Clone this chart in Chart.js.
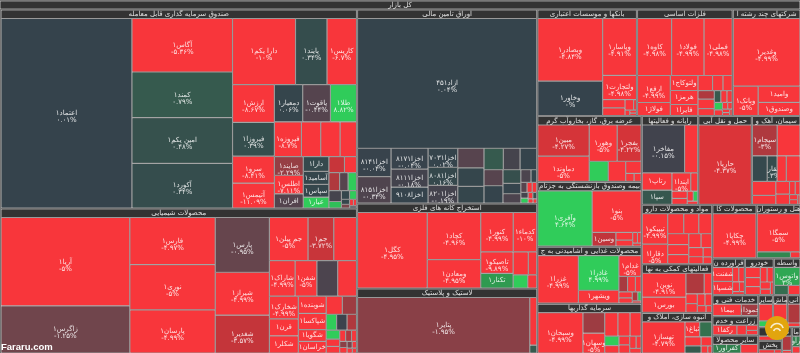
<!DOCTYPE html>
<html>
<head>
<meta charset="utf-8">
<style>
html, body { margin: 0; padding: 0; background: #777; }
#wrap { width: 800px; height: 353px; }
canvas { filter: blur(0.35px); }
</style>
<script src="https://cdn.jsdelivr.net/npm/chart.js@4/dist/chart.umd.js"></script>
</head>
<body>
<div id="wrap"><canvas id="map"></canvas></div>
<script>
var marketTitle = "کل بازار";

var fundNames = ["اعتماد۱","آگاس۱","کمند۱","امین یکم۱","آکورد۱","دارا یکم۱","پایند۱","کاریس۱","ارزش۱","فیروزا۱","سرو۱","آتیمس۱","دمعیار۱","یاقوت۱","طلا۱","فیروزه۱","","","","صایند۱","اطلس۱","افران۱","دارا۱","آسامید۱","سپاس۱","عیار۱","","","","","","","","","","","","","",""];
var fundCaps = [24440,5300,4530,4520,4430,4096,2048,1920,1558,1394,1107,1025,1044,1020,960,924,660,660,561,532,532,400,375,330,320,275,245,190,190,150,150,135,80,70,60,40,30,25,20,15];
var fundChanges = [0.01,-5.36,0.79,0.48,0.34,-10,0.34,-6.7,-8.67,0.39,-8.41,-11.09,0.06,-0.44,8.82,-8.7,-5,-5,-5,-2.29,-7.11,-0.4,0.2,0.1,0.1,5,-3.7,-5,-3,-0.5,5,-0.2,4,0.1,5,0.1,-1.5,-5,-5,0];

var chemNames = ["آریا۱","زاگرس۱","فارس۱","نوری۱","پارسان۱","پارس۱","شیراز۱","شغدیر۱","جم پیلن۱","جم۱","","شاراک۱","شفن۱","","","شخارک۱","قرن۱","شکلر۱","شوبنده۱","شپاکسا۱","شگویا۱","خراسان۱","","","","","","","","","","","","","","","","",""];
var chemCaps = [11300,6013,3995,3825,3655,2940,2300,2036,1650,1100,970,910,770,735,665,650,490,490,475,450,324,324,289,255,165,165,150,120,96,90,65,65,55,45,40,35,30,25,20];
var chemChanges = [-5,-1.25,-4.97,-5,-4.99,-0.95,-4.99,-3.57,-5,-3.72,-5,-4.99,-5,-0.3,-5,-4.99,-4.98,-5,-4.99,-4.97,-5,-5,-5,-2.5,5,-0.1,-3,5,-5,-5,-5,-3,-5,-2,-5,-1.5,-5,-5,-5];

var bondNames = ["ازاد۴۵۱","اخزا۸۱۴۱","اخزا۸۱۵۱","اخزا۸۱۷۱","اخزا۸۱۱۱","اخزا۹۱۰۸","اخزا۷۰۳۱","اخزا۸۰۸۱","اخزا۸۲۰۱","","","","","","","","","","","","","","","","","","","","","",""];
var bondCaps = [22733,928,864,756,648,576,551,530,510,500,475,425,405,351,351,297,320,240,180,162,126,72,60,50,45,40,35,30,25,20,15];
var bondChanges = [0.04,-0.04,-0.34,-0.04,-0.18,0,0.02,0.16,-0.19,-0.5,0.1,0.1,0.8,-0.2,0.02,-0.5,0.05,0.4,0.02,-0.3,-0.3,0.1,-0.5,-5,-5,-0.2,5,-5,0.5,-5,-5];

var miningNames = ["کگل۱","کچاد۱","ومعادن۱","کنور۱","کدماء۱","تاصیکو۱","تکنار۱","","","",""];
var miningCaps = [5313,2544,1537,1287,936,704,480,352,198,195,120];
var miningChanges = [-4.95,-4.96,-4.95,-4.99,-10,-9.89,2.5,-5,-5,5,-5];

var plasticNames = ["پتایر۱","",""];
var plasticCaps = [9460,329,55];
var plasticChanges = [-1.95,-5,0.8];

var bankNames = ["وبصادر۱","وخاور۱","وپاسار۱","ولتجارت۱","","","","","","",""];
var bankCaps = [4030,2210,1904,816,180,170,90,30,25,20,15];
var bankChanges = [-4.84,0,-4.91,-4.98,-5,-5,-5,-5,-5,-5,-5];

var metalNames = ["کاوه۱","فولاد۱","فملی۱","ارفع۱","فولاژ۱","ولتوکاج۱","هرمز۱","فایرا۱","","","","","","","","","","","","","","","",""];
var metalCaps = [1900,1800,1568,864,416,405,378,297,216,153,136,136,150,110,75,70,60,60,45,35,30,25,20,15];
var metalChanges = [-4.98,-4.99,-4.98,-4.99,-5,-5,-5,-5,-5,-5,-5,-3,-5,-5,0.8,-5,-5,5,-5,-5,-5,-5,-5,-5];

var multiNames = ["وغدیر۱","وبانک۱","وامید۱","وصندوق۱"];
var multiCaps = [4489,725,672,546];
var multiChanges = [-4.99,-5,-5,-5];

var energyNames = ["مبین۱","دماوند۱","وهور۱","بفجر۱","","","","",""];
var energyCaps = [1550,1250,980,840,370,340,180,65,55];
var energyChanges = [-4.27,-5,-5,-4.22,5,-5,-5,-5,-5];

var insureNames = ["واَفری۱","بنو۱","وسین۱","","","","",""];
var insureCaps = [2970,2009,325,130,100,50,40,25];
var insureChanges = [4.64,-5,-3.5,-5,-5,-5,-5,-5];

var foodNames = ["غزرا۱","غاذرا۱","ویشهر۱","غدام۱","","","","","","","",""];
var foodCaps = [1920,1400,520,460,135,120,90,80,70,50,30,20];
var foodChanges = [-4.99,4.99,-5,-5,-2.8,-5,-5,-5,-5,-3,5,-5];

var investNames = ["وسبحان۱","","وسهان۱","","","","","","","","","",""];
var investCaps = [1760,430,420,300,276,253,130,100,90,85,75,60,50];
var investChanges = [-4.99,-2.5,-5,-5,-5,-5,5,-5,-5,-5,-5,-5,-5];

var rayaneNames = ["مفاخر۱","","رتاپ۱","سپا۱","ایندا۱","","","","","",""];
var rayaneCaps = [2016,624,510,420,342,126,110,90,60,45,33];
var rayaneChanges = [-0.15,-5,-5,0.7,-5,-5,-5,-5,-5,5,-5];

var shipNames = ["حاریا۱"];
var shipCaps = [4266];
var shipChanges = [-4.37];

var cementNames = ["سیجام۱","","","سقارا۱","","","","","","","","","","",""];
var cementCaps = [725,667,357,238,221,330,310,195,165,130,70,60,40,35,20];
var cementChanges = [-3,-5,0.2,0.3,-5,-5,-5,-5,-5,-5,-5,-5,-5,-5,-5];

var drugNames = ["تیپیکو۱","دقارا۱","","","","","","","","","","","",""];
var drugCaps = [775,500,320,300,260,230,210,190,170,150,130,100,80,60];
var drugChanges = [-4.99,-5,-5,-5,-5,-5,-5,-5,-5,-5,-5,-5,-5,-5];

var serviceNames = ["نوین۱","بورس۱","","","","","","","",""];
var serviceCaps = [1050,672,380,160,110,100,90,80,60,40];
var serviceChanges = [-4.91,-5,-3,-5,-5,-5,-5,-5,-5,-5];

var buildNames = ["تهساز۱","ثباغ۱","","","","","",""];
var buildCaps = [1386,230,190,150,120,100,50,30];
var buildChanges = [-4.79,-5,1.4,-5,0.8,-5,-5,-5];

var partsNames = ["چکاپا۱"];
var partsCaps = [1980];
var partsChanges = [-4.99];

var hotelNames = ["سمگا۱","",""];
var hotelCaps = [1710,210,60];
var hotelChanges = [-5,2,-5];

var refineNames = ["شفنت۱","شسپا۱","","","","",""];
var refineCaps = [294,273,95,85,70,50,36];
var refineChanges = [-5,-5,-5,-5,-5,-5,-5];

var carNames = ["","","","","","","",""];
var carCaps = [170,150,130,110,100,80,60,40];
var carChanges = [-5,-5,-5,-5,-5,-5,-5,-5];

var brokerNames = ["واتوس۱","",""];
var brokerCaps = [432,120,100];
var brokerChanges = [3,1.3,-5];

var techNames = ["بیما۱","خموذا۱"];
var techCaps = [250,145];
var techChanges = [-5,-2.6];

var farmNames = ["رکفا۱","","",""];
var farmCaps = [230,90,60,50];
var farmChanges = [-5,-5,-5,-5];

var otherNames = ["کفرآور۱",""];
var otherCaps = [260,160];
var otherChanges = [1.8,-5];

var miscNames = ["",""];
var miscCaps = [200,70];
var miscChanges = [-5,5];

var machineNames = ["",""];
var machineCaps = [180,80];
var machineChanges = [-5,-5];

var tileNames = ["",""];
var tileCaps = [210,40];
var tileChanges = [-3,-5];

var sectorTitles = ["صندوق سرمایه گذاری قابل معامله","محصولات شیمیایی","اوراق تامین مالی","استخراج کانه های فلزی","لاستیک و پلاستیک","بانکها و موسسات اعتباری","فلزات اساسی","شرکتهای چند رشته ا","عرضه برق، گاز، بخاروآب گرم","بیمه وصندوق بازنشستگی به جزتام","محصولات غذایی و آشامیدنی به ج","سرمایه گذاریها","رایانه و فعالیتها","حمل و نقل آبی","سیمان، آهک و","مواد و محصولات دارو","فعالیتهای کمکی به نها","انبوه سازی، املاک و","محصولات کا","هتل و رستوران","فراورده ن","خودرو","واسطه","خدمات فنی و","زراعت و خدم","سایر محصولا","سایر","ماش","انی","تو","پخش","م","ما"];
var sectorCaps = [70844,51620,34920,15300,11700,10600,10176,7208,6864,6760,5928,5200,5016,4752,4312,4200,3430,2870,2370,2350,1190,1060,980,968,880,836,470,460,420,320,300,260,230];
var sectorCells = [
	[fundNames,fundCaps,fundChanges],[chemNames,chemCaps,chemChanges],[bondNames,bondCaps,bondChanges],
	[miningNames,miningCaps,miningChanges],[plasticNames,plasticCaps,plasticChanges],[bankNames,bankCaps,bankChanges],
	[metalNames,metalCaps,metalChanges],[multiNames,multiCaps,multiChanges],[energyNames,energyCaps,energyChanges],
	[insureNames,insureCaps,insureChanges],[foodNames,foodCaps,foodChanges],[investNames,investCaps,investChanges],
	[rayaneNames,rayaneCaps,rayaneChanges],[shipNames,shipCaps,shipChanges],[cementNames,cementCaps,cementChanges],
	[drugNames,drugCaps,drugChanges],[serviceNames,serviceCaps,serviceChanges],[buildNames,buildCaps,buildChanges],
	[partsNames,partsCaps,partsChanges],[hotelNames,hotelCaps,hotelChanges],[refineNames,refineCaps,refineChanges],
	[carNames,carCaps,carChanges],[brokerNames,brokerCaps,brokerChanges],[techNames,techCaps,techChanges],
	[farmNames,farmCaps,farmChanges],[otherNames,otherCaps,otherChanges],[miscNames,miscCaps,miscChanges],
	[machineNames,machineCaps,machineChanges],[tileNames,tileCaps,tileChanges],
	[miscNames,miscCaps,miscChanges],[machineNames,machineCaps,machineChanges],[tileNames,tileCaps,tileChanges],[otherNames,otherCaps,otherChanges]
];

var changeStops = [-4.8,-4.3,-3.57,-1.25,-0.4,0,0.8,2.5,4.5];
var colorStops = [[248,54,59],[214,52,57],[196,53,58],[112,69,76],[84,68,78],[53,67,76],[54,90,78],[47,154,80],[48,204,90]];

// squarified layout, golden ratio like d3 treemap
var PHI = (1 + Math.sqrt(5)) / 2;
function squarify(caps, x0, y0, x1, y1) {
	var rects = [], i0 = 0, i1 = 0, n = caps.length;
	var value = caps.reduce(function(a, b) { return a + b; }, 0);
	while (i0 < n) {
		var dx = x1 - x0, dy = y1 - y0;
		var sum = caps[i1++], min = sum, max = sum;
		var alpha = Math.max(dy / dx, dx / dy) / (value * PHI);
		var beta = sum * sum * alpha;
		var minRatio = Math.max(max / beta, beta / min);
		for (; i1 < n; ++i1) {
			var v = caps[i1];
			sum += v;
			if (v < min) min = v;
			if (v > max) max = v;
			beta = sum * sum * alpha;
			var newRatio = Math.max(max / beta, beta / min);
			if (newRatio > minRatio) { sum -= v; break; }
			minRatio = newRatio;
		}
		var j, pos;
		if (dx < dy) {
			var yEnd = i1 < n ? y0 + dy * sum / value : y1;
			pos = x0;
			for (j = i0; j < i1; j++) {
				var w = dx * caps[j] / sum;
				rects[j] = { x0: pos, x1: pos + w, y0: y0, y1: yEnd };
				pos += w;
			}
			y0 = yEnd;
		} else {
			var xEnd = i1 < n ? x0 + dx * sum / value : x1;
			pos = y0;
			for (j = i0; j < i1; j++) {
				var h = dy * caps[j] / sum;
				rects[j] = { x0: x0, x1: xEnd, y0: pos, y1: pos + h };
				pos += h;
			}
			x0 = xEnd;
		}
		value -= sum;
		i0 = i1;
	}
	return rects;
}

function buildCells() {
	var cells = [{ x0: 0, x1: 800, y0: 1, y1: 9, title: marketTitle }];
	squarify(sectorCaps, 0, 9, 800, 353).forEach(function(box, s) {
		cells.push({ x0: box.x0 + 1, x1: box.x1, y0: box.y0 + 1, y1: box.y0 + 9.5, title: sectorTitles[s] });
		var set = sectorCells[s];
		squarify(set[1], box.x0 + 1, box.y0 + 9.5, box.x1, box.y1).forEach(function(r, i) {
			r.name = set[0][i];
			r.change = set[2][i];
			cells.push(r);
		});
	});
	return cells;
}

function changeColor(v) {
	var k = 0;
	if (v <= changeStops[0]) return "rgb(" + colorStops[0] + ")";
	if (v >= changeStops[changeStops.length - 1]) return "rgb(" + colorStops[colorStops.length - 1] + ")";
	while (v > changeStops[k + 1]) k++;
	var t = (v - changeStops[k]) / (changeStops[k + 1] - changeStops[k]);
	var a = colorStops[k], b = colorStops[k + 1];
	return "rgb(" + [0, 1, 2].map(function(c) { return Math.round(a[c] + (b[c] - a[c]) * t); }) + ")";
}

function toPersian(v) {
	return String(v).replace(/\d/g, function(d) { return "۰۱۲۳۴۵۶۷۸۹"[d]; }) + "%";
}

class TreemapController extends Chart.DatasetController {
	parse() {}
	update(mode) {
		var meta = this._cachedMeta;
		this.updateElements(meta.data, 0, meta.data.length, mode);
	}
	updateElements(elements, start, count) {
		var xs = this._cachedMeta.xScale, ys = this._cachedMeta.yScale, data = this.getDataset().data;
		for (var i = start; i < start + count; i++) {
			var c = data[i];
			var left = xs.getPixelForValue(c.x0), right = xs.getPixelForValue(c.x1);
			this.updateElement(elements[i], i, {
				x: (left + right) / 2,
				y: ys.getPixelForValue(c.y0),
				base: ys.getPixelForValue(c.y1),
				width: right - left,
				height: ys.getPixelForValue(c.y1) - ys.getPixelForValue(c.y0),
				horizontal: false,
				inflateAmount: 0,
				borderSkipped: {},
				options: {
					backgroundColor: c.title ? "#333333" : changeColor(c.change),
					borderColor: "rgba(255,255,255,0.55)",
					borderWidth: 0.6
				}
			}, "none");
		}
	}
}
TreemapController.id = "treemap";
TreemapController.defaults = { dataElementType: "bar" };
Chart.register(TreemapController);

var labelsPlugin = {
	id: "cellLabels",
	afterDatasetsDraw: function(chart) {
		var ctx = chart.ctx, xs = chart.scales.x, ys = chart.scales.y;
		chart.data.datasets[0].data.forEach(function(c) {
			var text = c.title || c.name;
			if (!text) return;
			var l = xs.getPixelForValue(c.x0), r = xs.getPixelForValue(c.x1);
			var t = ys.getPixelForValue(c.y0), b = ys.getPixelForValue(c.y1);
			var cx = (l + r) / 2, cy = (t + b) / 2;
			ctx.save();
			ctx.beginPath();
			ctx.rect(l, t, r - l, b - t);
			ctx.clip();
			ctx.textAlign = "center";
			ctx.textBaseline = "middle";
			ctx.fillStyle = "rgba(255,255,255,0.85)";
			ctx.direction = "rtl";
			ctx.font = "7px 'DejaVu Sans'";
			ctx.fillText(text, cx, cy);
			if (!c.title && b - t > 17.5) {
				ctx.direction = "ltr";
				ctx.fillText(toPersian(c.change), cx, cy + 7);
			}
			ctx.restore();
		});
	},
	afterDraw: function(chart) {
		var ctx = chart.ctx;
		ctx.save();
		ctx.font = "bold 9.5px 'Liberation Sans'";
		ctx.fillStyle = "#fff";
		ctx.textBaseline = "middle";
		ctx.fillText("Fararu.com", 1, 347);
		ctx.beginPath();
		ctx.arc(777, 328, 12, 0, Math.PI * 2);
		ctx.fillStyle = "#e2a50e";
		ctx.fill();
		ctx.strokeStyle = "rgba(255,255,255,0.8)";
		ctx.lineWidth = 1.6;
		ctx.beginPath();
		ctx.arc(777, 330, 6.5, Math.PI * 1.1, Math.PI * 1.9);
		ctx.stroke();
		ctx.beginPath();
		ctx.arc(777, 332, 3.5, Math.PI * 1.1, Math.PI * 1.9);
		ctx.stroke();
		ctx.restore();
	}
};

new Chart(document.getElementById("map"), {
	type: "treemap",
	data: { datasets: [{ data: buildCells() }] },
	plugins: [labelsPlugin],
	options: {
		responsive: true,
		maintainAspectRatio: false,
		animation: false,
		events: [],
		layout: { padding: 0 },
		plugins: { legend: { display: false }, tooltip: { enabled: false } },
		scales: {
			x: { type: "linear", min: 0, max: 800, display: false },
			y: { type: "linear", min: 0, max: 353, reverse: true, display: false }
		}
	}
});
</script>
</body>
</html>
